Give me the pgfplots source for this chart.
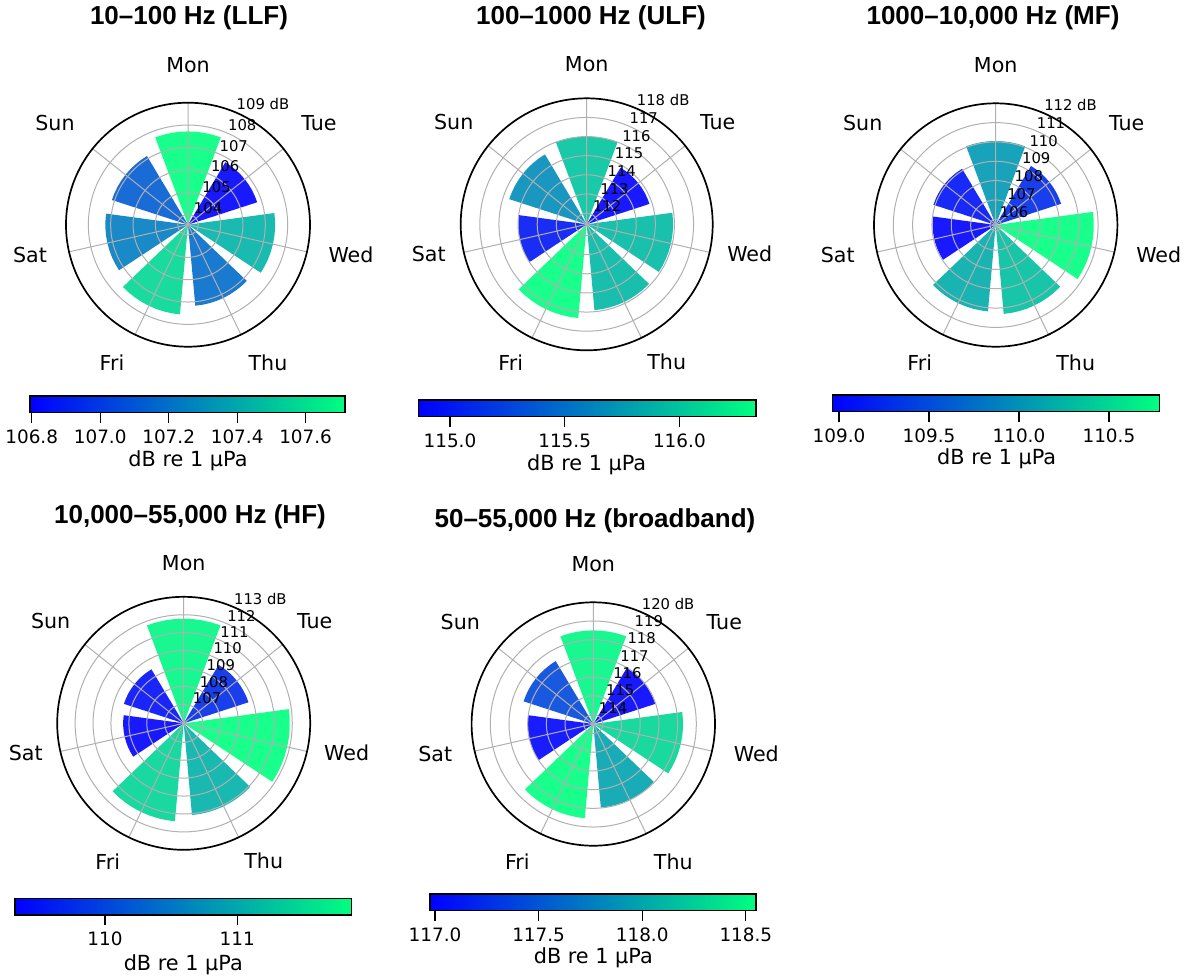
\documentclass[border=0pt]{standalone}
\usepackage{pgfplots}
\pgfplotsset{compat=1.18}
\usepgfplotslibrary{polar}
\usepackage{fontspec}
\setmainfont{DejaVu Sans}
\newfontfamily\titlefont{Liberation Sans}
\definecolor{wA}{rgb}{0,0,1}
\definecolor{wB}{rgb}{0,1,0.5}
\definecolor{gridc}{gray}{0.69}

\newcommand\dayfont{\fontsize{10.3}{12}\selectfont}
\newcommand\rfont{\fontsize{7.4}{8.5}\selectfont}
\newcommand\cbtickfont{\fontsize{9.2}{11}\selectfont}
\newcommand\cblabfont{\fontsize{10.4}{12}\selectfont}
\newcommand\ttlfont{\titlefont\bfseries\fontsize{13}{15}\selectfont}

% one wedge: #1 = centre angle, #2 = value (uses \rmin, \cmin, \cmax)
\newcommand\wbar[2]{%
  \pgfmathsetmacro\pct{max(0,min(100,100*(#2-\cmin)/(\cmax-\cmin)))}%
  \pgfmathsetmacro\aA{#1-20.571}%
  \pgfmathsetmacro\aB{#1-15.428}%
  \pgfmathsetmacro\aC{#1-10.286}%
  \pgfmathsetmacro\aD{#1-5.143}%
  \pgfmathsetmacro\aF{#1+5.143}%
  \pgfmathsetmacro\aG{#1+10.286}%
  \pgfmathsetmacro\aH{#1+15.428}%
  \pgfmathsetmacro\aI{#1+20.571}%
  \edef\next{\noexpand\addplot[draw=none, mark=none, fill={wB!\pct!wA!90!white}] coordinates {(#1,\rmin) (\aA,\rmin) (\aA,#2) (\aB,#2) (\aC,#2) (\aD,#2) (#1,#2) (\aF,#2) (\aG,#2) (\aH,#2) (\aI,#2) (\aI,\rmin)};}%
  \next
}

% day names around a panel centred at (#1,#2) (picture px)
\newcommand\daylabels[2]{%
 \node[font=\dayfont] at (#1,#2-160) {Mon};
 \node[font=\dayfont] at (#1+131,#2-102) {Tue};
 \node[font=\dayfont] at (#1+163,#2+30) {Wed};
 \node[font=\dayfont] at (#1+80,#2+138) {Thu};
 \node[font=\dayfont] at (#1-76,#2+138) {Fri};
 \node[font=\dayfont] at (#1-158,#2+30) {Sat};
 \node[font=\dayfont] at (#1-133,#2-102) {Sun};
}

\tikzset{rl/.style={anchor=south west, inner sep=0.8pt, font=\rfont}}

\pgfplotsset{
  mypolar/.style={
    anchor=center, scale only axis, clip=false, axis on top,
    xmin=0, xmax=360, ymin=0,
    xtick={90,38.571,347.143,295.714,244.286,192.857,141.429},
    xticklabels={,,,,,,,,}, yticklabels={,,,,,,,,},
    xmajorgrids, ymajorgrids,
    major grid style={draw=gridc, line width=0.5pt},
    x axis line style={draw=black, line width=0.85pt},
    y axis line style={draw=none},
    major tick length=0pt,
  },
  cbar/.style={
    anchor=south west, scale only axis, height=8.35pt,
    ymin=0, ymax=1, ytick=\empty, axis on top,
    tick align=outside, xtick pos=lower, major tick length=5pt,
    xtick style={line width=0.6pt, draw=black},
    axis line style={line width=0.75pt},
    xticklabel style={font=\cbtickfont},
    scaled x ticks=false,
    /pgf/number format/fixed, /pgf/number format/fixed zerofill,
    /pgf/number format/precision=1,
    /pgf/number format/assume math mode=true,
  },
}

\begin{document}
\begin{tikzpicture}[x=0.5pt, y=-0.5pt]
\path[use as bounding box] (0,0) rectangle (1188,976);

% ---------------- panel 1: 10-100 Hz (LLF)
\def\rmin{103.54}\def\cmin{106.795}\def\cmax{107.715}
\begin{polaraxis}[mypolar, at={(94pt,-112.35pt)}, width=122pt, height=122pt,
  ymax=5.46, y filter/.expression={y-103.54},
  ytick={0.46,1.46,2.46,3.46,4.46}]
\wbar{90}{107.715}
\wbar{38.571}{106.795}
\wbar{-12.857}{107.44}
\wbar{-64.286}{107.18}
\wbar{-115.714}{107.57}
\wbar{-167.143}{107.24}
\wbar{-218.571}{107.12}
\coordinate (a1) at (axis cs:67.5,0.46);
\coordinate (a2) at (axis cs:67.5,1.46);
\coordinate (a3) at (axis cs:67.5,2.46);
\coordinate (a4) at (axis cs:67.5,3.46);
\coordinate (a5) at (axis cs:67.5,4.46);
\coordinate (a6) at (axis cs:67.5,5.46);
\end{polaraxis}
\node[rl] at (a1) {104};
\node[rl] at (a2) {105};
\node[rl] at (a3) {106};
\node[rl] at (a4) {107};
\node[rl] at (a5) {108};
\node[rl] at (a6) {109 dB};
\daylabels{188}{224.7}

% ---------------- panel 2: 100-1000 Hz (ULF)
\def\rmin{111.41}\def\cmin{114.862}\def\cmax{116.334}
\begin{polaraxis}[mypolar, at={(293.35pt,-112.15pt)}, width=126pt, height=126pt,
  ymax=6.59, y filter/.expression={y-111.41},
  ytick={0.59,1.59,2.59,3.59,4.59,5.59}]
\wbar{90}{115.99}
\wbar{38.571}{114.862}
\wbar{-12.857}{115.93}
\wbar{-64.286}{115.92}
\wbar{-115.714}{116.334}
\wbar{-167.143}{114.99}
\wbar{-218.571}{115.67}
\coordinate (b1) at (axis cs:67.5,0.59);
\coordinate (b2) at (axis cs:67.5,1.59);
\coordinate (b3) at (axis cs:67.5,2.59);
\coordinate (b4) at (axis cs:67.5,3.59);
\coordinate (b5) at (axis cs:67.5,4.59);
\coordinate (b6) at (axis cs:67.5,5.59);
\coordinate (b7) at (axis cs:67.5,6.59);
\end{polaraxis}
\node[rl] at (b1) {112};
\node[rl] at (b2) {113};
\node[rl] at (b3) {114};
\node[rl] at (b4) {115};
\node[rl] at (b5) {116};
\node[rl] at (b6) {117};
\node[rl] at (b7) {118 dB};
\daylabels{586.7}{224.3}

% ---------------- panel 3: 1000-10,000 Hz (MF)
\def\rmin{105.70}\def\cmin{108.965}\def\cmax{110.78}
\begin{polaraxis}[mypolar, at={(497.85pt,-112.5pt)}, width=121.7pt, height=121.7pt,
  ymax=6.30, y filter/.expression={y-105.70},
  ytick={0.30,1.30,2.30,3.30,4.30,5.30}]
\wbar{90}{110.05}
\wbar{38.571}{109.26}
\wbar{-12.857}{110.78}
\wbar{-64.286}{110.32}
\wbar{-115.714}{110.19}
\wbar{-167.143}{108.965}
\wbar{-218.571}{109.09}
\coordinate (c1) at (axis cs:67.5,0.30);
\coordinate (c2) at (axis cs:67.5,1.30);
\coordinate (c3) at (axis cs:67.5,2.30);
\coordinate (c4) at (axis cs:67.5,3.30);
\coordinate (c5) at (axis cs:67.5,4.30);
\coordinate (c6) at (axis cs:67.5,5.30);
\coordinate (c7) at (axis cs:67.5,6.30);
\end{polaraxis}
\node[rl] at (c1) {106};
\node[rl] at (c2) {107};
\node[rl] at (c3) {108};
\node[rl] at (c4) {109};
\node[rl] at (c5) {110};
\node[rl] at (c6) {111};
\node[rl] at (c7) {112 dB};
\daylabels{995.7}{225}

% ---------------- panel 4: 10,000-55,000 Hz (HF)
\def\rmin{105.94}\def\cmin{109.32}\def\cmax{111.865}
\begin{polaraxis}[mypolar, at={(91.85pt,-361.65pt)}, width=126.5pt, height=126.5pt,
  ymax=7.06, y filter/.expression={y-105.94},
  ytick={1.06,2.06,3.06,4.06,5.06,6.06}]
\wbar{90}{111.78}
\wbar{38.571}{109.74}
\wbar{-12.857}{111.865}
\wbar{-64.286}{111.08}
\wbar{-115.714}{111.43}
\wbar{-167.143}{109.32}
\wbar{-218.571}{109.45}
\coordinate (d1) at (axis cs:67.5,1.06);
\coordinate (d2) at (axis cs:67.5,2.06);
\coordinate (d3) at (axis cs:67.5,3.06);
\coordinate (d4) at (axis cs:67.5,4.06);
\coordinate (d5) at (axis cs:67.5,5.06);
\coordinate (d6) at (axis cs:67.5,6.06);
\coordinate (d7) at (axis cs:67.5,7.06);
\end{polaraxis}
\node[rl] at (d1) {107};
\node[rl] at (d2) {108};
\node[rl] at (d3) {109};
\node[rl] at (d4) {110};
\node[rl] at (d5) {111};
\node[rl] at (d6) {112};
\node[rl] at (d7) {113 dB};
\daylabels{183.7}{723.3}

% ---------------- panel 5: 50-55,000 Hz (broadband)
\def\rmin{113.49}\def\cmin{116.976}\def\cmax{118.549}
\begin{polaraxis}[mypolar, at={(296.65pt,-362pt)}, width=121.7pt, height=121.7pt,
  ymax=6.51, y filter/.expression={y-113.49},
  ytick={0.51,1.51,2.51,3.51,4.51,5.51}]
\wbar{90}{118.50}
\wbar{38.571}{116.976}
\wbar{-12.857}{118.29}
\wbar{-64.286}{117.98}
\wbar{-115.714}{118.549}
\wbar{-167.143}{117.00}
\wbar{-218.571}{117.41}
\coordinate (e1) at (axis cs:67.5,0.51);
\coordinate (e2) at (axis cs:67.5,1.51);
\coordinate (e3) at (axis cs:67.5,2.51);
\coordinate (e4) at (axis cs:67.5,3.51);
\coordinate (e5) at (axis cs:67.5,4.51);
\coordinate (e6) at (axis cs:67.5,5.51);
\coordinate (e7) at (axis cs:67.5,6.51);
\end{polaraxis}
\node[rl] at (e1) {114};
\node[rl] at (e2) {115};
\node[rl] at (e3) {116};
\node[rl] at (e4) {117};
\node[rl] at (e5) {118};
\node[rl] at (e6) {119};
\node[rl] at (e7) {120 dB};
\daylabels{593.3}{724}

% ---------------- colour bars
\begin{axis}[cbar, at={(15pt,-206.35pt)}, width=157.5pt, xmin=106.795, xmax=107.715,
  xtick={106.8,107.0,107.2,107.4,107.6}]
\fill[left color=wA, right color=wB] (rel axis cs:0,0) rectangle (rel axis cs:1,1);
\end{axis}
\begin{axis}[cbar, at={(209.15pt,-208.35pt)}, width=168.85pt, xmin=114.862, xmax=116.334,
  xtick={115.0,115.5,116.0}]
\fill[left color=wA, right color=wB] (rel axis cs:0,0) rectangle (rel axis cs:1,1);
\end{axis}
\begin{axis}[cbar, at={(416.35pt,-205.85pt)}, width=163.3pt, xmin=108.965, xmax=110.78,
  xtick={109.0,109.5,110.0,110.5}]
\fill[left color=wA, right color=wB] (rel axis cs:0,0) rectangle (rel axis cs:1,1);
\end{axis}
\begin{axis}[cbar, at={(7.5pt,-457.5pt)}, width=168.35pt, xmin=109.32, xmax=111.865,
  xtick={110,111}, /pgf/number format/precision=0]
\fill[left color=wA, right color=wB] (rel axis cs:0,0) rectangle (rel axis cs:1,1);
\end{axis}
\begin{axis}[cbar, at={(215pt,-455.35pt)}, width=163pt, xmin=116.976, xmax=118.549,
  xtick={117.0,117.5,118.0,118.5}]
\fill[left color=wA, right color=wB] (rel axis cs:0,0) rectangle (rel axis cs:1,1);
\end{axis}

\node[font=\cblabfont] at (188,461) {dB re 1 µPa};
\node[font=\cblabfont] at (586.7,465) {dB re 1 µPa};
\node[font=\cblabfont] at (996.7,459) {dB re 1 µPa};
\node[font=\cblabfont] at (183.3,965) {dB re 1 µPa};
\node[font=\cblabfont] at (593.3,958) {dB re 1 µPa};

% ---------------- titles
\node[font=\ttlfont] at (189,18) {10–100 Hz (LLF)};
\node[font=\ttlfont] at (591,18) {100–1000 Hz (ULF)};
\node[font=\ttlfont] at (993,18) {1000–10,000 Hz (MF)};
\node[font=\ttlfont] at (190,517) {10,000–55,000 Hz (HF)};
\node[font=\ttlfont] at (595,521) {50–55,000 Hz (broadband)};
\end{tikzpicture}
\end{document}
